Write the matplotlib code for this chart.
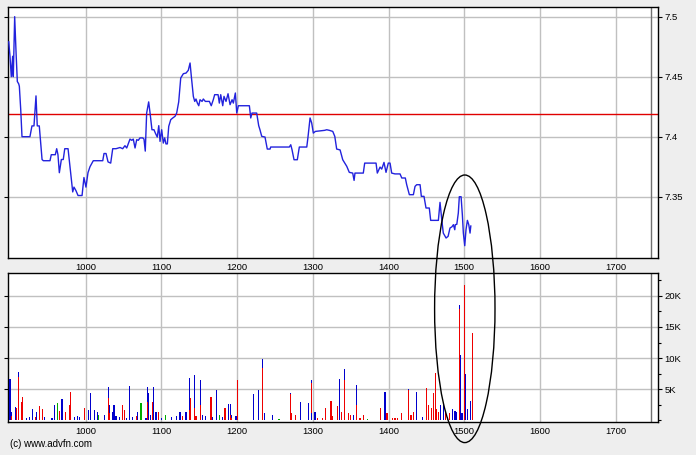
import matplotlib
matplotlib.use("Agg")
import matplotlib.pyplot as plt
from matplotlib.patches import Ellipse, Rectangle
from matplotlib.ticker import FixedLocator, MultipleLocator

# ---- data: time in minutes after 09:00 ----
price_t = [-1.0, 0.0, 1.0, 2.1, 2.6, 3.7, 4.8, 5.8, 6.9, 7.4, 8.5, 9.5, 15.8, 17.4, 19.0, 20.6,
           21.6, 23.2, 25.4, 26.4, 31.7, 32.7, 35.9, 37.0, 38.0, 39.1, 40.7, 42.2, 43.4, 46.0,
           48.1, 49.7, 50.7, 52.3, 53.9, 57.1, 58.6, 60.2, 61.8, 63.4, 66.0, 67.6, 73.5, 74.5,
           76.1, 77.7, 79.8, 81.4, 84.0, 87.2, 89.3, 91.1, 92.5, 95.1, 96.5, 97.7, 99.1, 100.4,
           101.7, 103.0, 105.2, 106.2, 107.2, 108.3, 109.9, 111.0, 112.5, 114.1, 115.2, 116.7,
           117.9, 118.9, 120.2, 121.5, 122.6, 123.6, 124.7, 125.8, 127.4, 129.0, 130.8, 132.1,
           133.7, 135.3, 137.4, 139.5, 141.3, 142.7, 143.7, 145.3, 146.4, 147.4, 148.5, 149.6,
           150.6, 152.2, 153.2, 154.8, 158.0, 159.5, 161.1, 162.2, 164.9, 165.9, 167.0, 168.6,
           169.6, 171.2, 172.8, 174.4, 176.0, 177.0, 178.6, 179.7, 181.0, 189.7, 190.8, 191.8,
           195.5, 197.1, 198.1, 199.5, 202.1, 203.9, 206.1, 206.6, 221.4, 222.5, 223.5, 225.1,
           227.7, 229.3, 235.2, 236.2, 237.8, 239.1, 240.4, 242.0, 249.4, 251.0, 253.1, 255.8,
           257.4, 258.9, 261.6, 263.7, 266.9, 268.9, 271.6, 272.7, 273.4, 280.0, 281.1, 290.1,
           291.1, 293.3, 294.6, 296.4, 298.0, 299.8, 301.2, 302.5, 305.1, 309.1, 310.5, 313.3,
           314.4, 316.5, 319.7, 321.0, 322.3, 325.0, 326.0, 328.1, 329.7, 332.3, 333.4, 339.5,
           340.8, 342.2, 343.4, 345.6, 347.2, 348.7, 350.3, 351.4, 352.5, 352.9, 354.1, 355.3,
           356.1, 357.5, 358.5, 359.3, 360.4, 361.4, 362.5, 363.6, 364.6, 365.2]
price_v = [7.479, 7.467, 7.450, 7.467, 7.450, 7.500, 7.470, 7.446, 7.444, 7.442, 7.4225, 7.400,
           7.400, 7.409, 7.409, 7.434, 7.409, 7.409, 7.381, 7.380, 7.380, 7.385, 7.385, 7.390,
           7.385, 7.370, 7.381, 7.381, 7.390, 7.390, 7.370, 7.354, 7.358, 7.355, 7.351, 7.351,
           7.366, 7.358, 7.370, 7.375, 7.380, 7.380, 7.380, 7.386, 7.386, 7.379, 7.378, 7.390,
           7.390, 7.391, 7.390, 7.3925, 7.3906, 7.398, 7.397, 7.398, 7.3906, 7.3975, 7.397,
           7.399, 7.399, 7.398, 7.388, 7.4197, 7.429, 7.4197, 7.4058, 7.4058, 7.403, 7.3997,
           7.4092, 7.3961, 7.4058, 7.3947, 7.399, 7.394, 7.394, 7.4086, 7.4142, 7.4156, 7.417,
           7.4197, 7.429, 7.4489, 7.4525, 7.453, 7.4553, 7.4614, 7.4503, 7.4336, 7.4294, 7.4314,
           7.428, 7.4258, 7.4308, 7.4294, 7.4314, 7.4294, 7.4294, 7.4258, 7.4308, 7.435, 7.435,
           7.428, 7.435, 7.4258, 7.4336, 7.4294, 7.4358, 7.4267, 7.4308, 7.428, 7.4364, 7.4197,
           7.4258, 7.4258, 7.4156, 7.4197, 7.4197, 7.4092, 7.4058, 7.4003, 7.3997, 7.3897,
           7.3897, 7.3914, 7.3914, 7.3933, 7.3892, 7.3808, 7.3808, 7.3914, 7.3914, 7.400,
           7.4156, 7.4114, 7.403, 7.4044, 7.4053, 7.4058, 7.4053, 7.4044, 7.4003, 7.3897, 7.389,
           7.3808, 7.3753, 7.3703, 7.3697, 7.3636, 7.3697, 7.3697, 7.378, 7.378, 7.3697, 7.3747,
           7.373, 7.3786, 7.3703, 7.378, 7.378, 7.3697, 7.369, 7.369, 7.3656, 7.3656, 7.360,
           7.3517, 7.3517, 7.3586, 7.360, 7.360, 7.3503, 7.3503, 7.3406, 7.3406, 7.3303, 7.3303,
           7.3453, 7.3308, 7.3197, 7.3156, 7.317, 7.3239, 7.325, 7.3267, 7.3225, 7.3267, 7.327,
           7.3364, 7.350, 7.350, 7.335, 7.3197, 7.3092, 7.3225, 7.3303, 7.3267, 7.3197, 7.3256]

reference_price = 7.419

# volume bars: time, red part, blue part, green part
vol_t = [0.0, 0.8, 4.2, 5.3, 6.6, 8.9, 10.1, 13.2, 15.8, 18.0, 20.6, 21.2, 23.2, 25.9, 27.2,
         33.3, 35.1, 37.8, 39.1, 41.2, 43.8, 47.0, 48.3, 51.0, 53.6, 54.9, 59.2, 62.4, 64.0,
         66.8, 69.5, 70.3, 74.7, 77.7, 78.7, 81.4, 82.4, 84.0, 86.6, 88.8, 90.9, 92.5, 94.5,
         97.2, 99.9, 101.2, 103.8, 107.8, 108.8, 109.9, 111.0, 113.1, 113.6, 115.7, 117.9,
         119.7, 123.6, 127.8, 131.6, 134.7, 136.9, 139.5, 142.1, 142.9, 146.4, 147.4, 150.8,
         152.7, 154.8, 159.3, 160.7, 163.3, 165.9, 168.6, 170.4, 172.8, 174.4, 175.4, 179.1,
         180.5, 192.8, 197.3, 200.0, 201.6, 207.9, 213.2, 222.2, 223.3, 225.9, 230.1, 236.4,
         238.6, 239.1, 241.7, 243.9, 247.5, 250.2, 254.4, 255.5, 259.2, 261.3, 262.9, 265.0,
         268.1, 269.5, 272.1, 274.5, 277.4, 280.0, 283.5, 293.5, 297.2, 298.8, 303.0, 305.1,
         307.3, 310.5, 315.7, 317.8, 319.7, 322.0, 326.8, 330.3, 331.5, 333.7, 335.8, 336.9,
         337.9, 339.5, 341.4, 343.4, 345.3, 346.9, 348.5, 350.6, 352.7, 354.1, 356.1, 356.9,
         358.2, 360.1, 360.9, 362.5, 364.8, 366.4]
vol_red = [0, 700, 0, 1950, 7020, 3010, 3820, 0, 0, 0, 610, 0, 2320, 1840, 0,
           0, 0, 0, 1570, 0, 1410, 2480, 4620, 0, 0, 0, 1950, 0, 0,
           0, 0, 0, 0, 3550, 1240, 0, 0, 0, 0, 2480, 1680, 0, 0,
           0, 720, 0, 0, 0, 3000, 0, 0, 3010, 0, 0, 1410,
           0, 0, 0, 0, 0, 770, 0, 1600, 3550, 2000, 770, 2500,
           0, 0, 3820, 0, 0, 0, 0, 1950, 0, 800, 440, 0,
           6490, 0, 0, 8360, 0, 0, 0, 4200, 1150, 880, 0, 0,
           0, 6000, 0, 350, 350, 2050, 3170, 720, 2320, 0, 1410, 6490,
           1150, 880, 0, 2500, 350, 880, 0, 1950, 0, 1150, 350, 350,
           350, 1150, 4850, 880, 1410, 0, 0, 5160, 2480, 1950, 4350, 7560,
           1790, 1410, 0, 0, 1300, 610, 1150, 0, 0, 0, 17800, 0,
           0, 21700, 0, 0, 0, 14070]
vol_blue = [6600, 700, 2210, 0, 700, 0, 0, 350, 610, 1840, 0, 1410, 0, 0, 610,
            350, 2480, 0, 0, 3450, 0, 0, 0, 610, 720, 510, 0, 1680, 4350,
            1680, 1410, 0, 880, 1870, 1240, 1410, 2480, 770, 610, 0, 0, 350, 5580,
            510, 0, 1410, 0, 350, 2420, 4350, 880, 0, 5420, 1410, 0,
            350, 0, 610, 770, 1410, 0, 1410, 5260, 0, 5290, 0, 3990,
            880, 770, 0, 610, 4890, 0, 610, 0, 2640, 1840, 440, 720,
            0, 4250, 4890, 1500, 1150, 880, 0, 150, 0, 0, 3020, 2850,
            1150, 490, 1410, 0, 0, 0, 0, 0, 0, 6650, 0, 1760,
            0, 0, 880, 3190, 0, 0, 0, 0, 4520, 0, 0, 0,
            0, 0, 150, 0, 0, 4620, 610, 0, 0, 0, 0, 0,
            0, 0, 2500, 2850, 0, 0, 0, 1790, 1580, 1410, 710, 10500,
            1200, 0, 7500, 1900, 3100, 0]
vol_green = [0, 0, 0, 0, 0, 0, 0, 0, 0, 0, 0, 0, 0, 0, 0,
             0, 0, 2750, 0, 0, 0, 0, 0, 0, 0, 0, 0, 0, 0,
             0, 0, 880, 0, 0, 0, 0, 0, 0, 0, 0, 0, 0, 0,
             0, 0, 0, 2850, 0, 0, 0, 0, 0, 0, 0, 0,
             0, 880, 0, 0, 0, 0, 0, 0, 0, 0, 0, 0,
             0, 0, 0, 0, 0, 880, 0, 0, 0, 0, 0, 0,
             0, 0, 0, 0, 0, 0, 190, 0, 0, 0, 0, 0,
             0, 0, 0, 0, 0, 0, 0, 0, 0, 0, 0, 0,
             0, 0, 0, 0, 0, 0, 190, 0, 0, 0, 0, 0,
             0, 0, 0, 0, 0, 0, 0, 0, 0, 0, 0, 0,
             0, 0, 0, 0, 0, 0, 0, 0, 0, 0, 0, 0,
             0, 0, 0, 0, 0, 0]

x_ticks = [60, 120, 180, 240, 300, 360, 420, 480]
x_labels = ["1000", "1100", "1200", "1300", "1400", "1500", "1600", "1700"]
price_ticks = [7.35, 7.4, 7.45, 7.5]
price_labels = ["7.35", "7.4", "7.45", "7.5"]
vol_ticks = [5000, 10000, 15000, 20000]
vol_labels = ["5K", "10K", "15K", "20K"]
session_end = 507.8

# ---- figure ----
W, H = 699, 455
fig = plt.figure(figsize=(W / 100, H / 100), dpi=100, facecolor="#EEEEEE")
plt.rcParams["font.family"] = ["Liberation Sans", "DejaVu Sans"]

# thin white strip at the far right edge
fig.patches.append(Rectangle((695.5 / W, 0), 1, 1, transform=fig.transFigure,
                             facecolor="white", edgecolor="none", zorder=0))

def fr(x0, y0, x1, y1):
    return [x0 / W, 1 - y1 / H, (x1 - x0) / W, (y1 - y0) / H]

ax1 = fig.add_axes(fr(8, 6.7, 658.3, 257.7))
ax2 = fig.add_axes(fr(8, 272.7, 658.3, 421.7))

xlim = (-1.59, 513.8)
grid_c = "#C0C0C0"
for ax in (ax1, ax2):
    ax.set_facecolor("white")
    ax.set_xlim(*xlim)
    ax.xaxis.set_major_locator(FixedLocator(x_ticks))
    ax.set_xticklabels(x_labels)
    ax.grid(True, color=grid_c, linewidth=1)
    ax.set_axisbelow(True)
    ax.yaxis.tick_right()
    ax.tick_params(axis="x", length=0, pad=4, labelsize=6.8)
    ax.tick_params(axis="y", which="major", direction="out", length=3, width=0.8,
                   pad=1.5, labelsize=6.8, right=True, left=True)
    ax.tick_params(axis="y", which="minor", direction="out", length=2, width=0.8,
                   right=True, left=False)
    for s in ax.spines.values():
        s.set_color("black")
        s.set_linewidth(1)
    ax.axvline(session_end, color="#707070", linewidth=1, zorder=1)

ax1.set_ylim(7.2992, 7.5083)
ax1.yaxis.set_major_locator(FixedLocator(price_ticks))
ax1.set_yticklabels(price_labels)
ax1.plot(price_t, price_v, color="#2222DD", linewidth=1, zorder=3)
ax1.axhline(reference_price, color="#E00000", linewidth=1, zorder=2)

ax2.set_ylim(-200, 23700)
ax2.yaxis.set_major_locator(FixedLocator(vol_ticks))
ax2.yaxis.set_minor_locator(MultipleLocator(2500))
ax2.set_yticklabels(vol_labels)
bw = 0.85
ax2.bar(vol_t, vol_red, width=bw, color="#EE0000", linewidth=0, zorder=3)
ax2.bar(vol_t, vol_blue, width=bw, bottom=vol_red, color="#0000CC", linewidth=0, zorder=3)
base2 = [r + b for r, b in zip(vol_red, vol_blue)]
ax2.bar(vol_t, vol_green, width=bw, bottom=base2, color="#00AA00", linewidth=0, zorder=3)

# ellipse annotation spanning both panels
ell = Ellipse((464.8 / W, 1 - 308.8 / H), 60.4 / W, 267.6 / H, transform=fig.transFigure,
              fill=False, edgecolor="black", linewidth=1, zorder=10)
fig.patches.append(ell)

fig.text(10 / W, 1 - 444 / H, "(c) www.advfn.com", fontsize=7, va="center", ha="left")

fig.savefig("out.png", dpi=100, facecolor=fig.get_facecolor())
